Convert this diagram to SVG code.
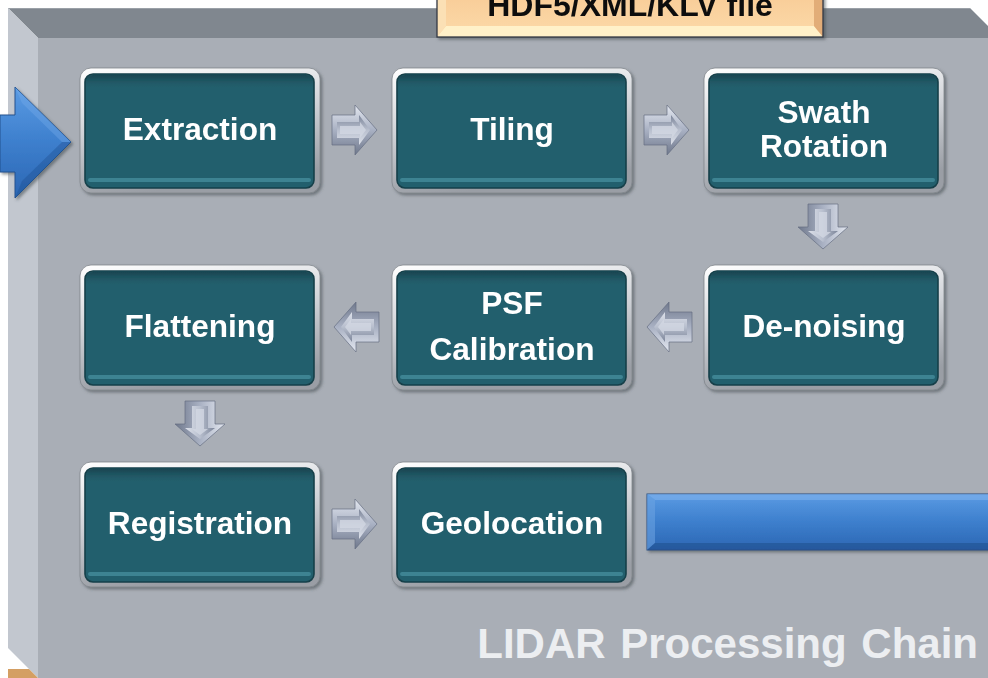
<svg xmlns="http://www.w3.org/2000/svg" xmlns:xlink="http://www.w3.org/1999/xlink" width="988" height="678" viewBox="0 0 988 678">
  <defs>
    <style>
      .lbl { font-family: "Liberation Sans", Arial, sans-serif; font-weight: bold; font-size: 31.6px; fill: #ffffff; text-anchor: middle; }
      .frame { fill: url(#frameGrad); stroke: #80858c; stroke-width: 0.8; }
      .face { fill: #245f6d; stroke: #163f49; stroke-width: 1.6; }
      .shine { fill: #3c8392; }
      .title { font-family: "Liberation Sans", Arial, sans-serif; font-weight: bold; font-size: 42px; word-spacing: 3px; fill: #eceef1; text-anchor: end; }
      .file { font-family: "Liberation Sans", Arial, sans-serif; font-weight: bold; font-size: 32px; fill: #111111; text-anchor: middle; }
    </style>
    <linearGradient id="frameGrad" x1="0" y1="0" x2="0.25" y2="1">
      <stop offset="0" stop-color="#ffffff"/>
      <stop offset="0.5" stop-color="#cfd2d7"/>
      <stop offset="1" stop-color="#9a9ea5"/>
    </linearGradient>
    <linearGradient id="faceShade" x1="0" y1="0" x2="0" y2="1">
      <stop offset="0" stop-color="#143a44" stop-opacity="0.7"/>
      <stop offset="0.12" stop-color="#1f5562" stop-opacity="0"/>
      <stop offset="1" stop-color="#1f5562" stop-opacity="0"/>
    </linearGradient>
    <linearGradient id="silver" x1="0" y1="0" x2="0" y2="1">
      <stop offset="0" stop-color="#e4e8f0"/>
      <stop offset="0.5" stop-color="#a9b1c3"/>
      <stop offset="1" stop-color="#6f788c"/>
    </linearGradient>
    <linearGradient id="silverIn" x1="0" y1="0" x2="0" y2="1">
      <stop offset="0" stop-color="#7c8599"/>
      <stop offset="0.5" stop-color="#b8bfce"/>
      <stop offset="1" stop-color="#dde1ea"/>
    </linearGradient>
    <linearGradient id="blueGrad" x1="0" y1="0" x2="0" y2="1">
      <stop offset="0" stop-color="#5b9be3"/>
      <stop offset="0.5" stop-color="#3d7fcd"/>
      <stop offset="1" stop-color="#2c66b3"/>
    </linearGradient>
    <linearGradient id="fileGrad" x1="0" y1="0" x2="0" y2="1">
      <stop offset="0" stop-color="#f8cb96"/>
      <stop offset="1" stop-color="#fcdaa9"/>
    </linearGradient>
    <filter id="shadow" x="-10%" y="-10%" width="125%" height="130%">
      <feDropShadow dx="2" dy="2" stdDeviation="1.5" flood-color="#40464e" flood-opacity="0.55"/>
    </filter>
    <!-- beveled silver arrow pointing right, origin at the tail centre -->
    <g id="arrowR">
      <polygon points="0,-15 23,-15 23,-25 45,0 23,25 23,15 0,15" fill="url(#silver)" stroke="#656e82" stroke-width="0.7"/>
      <polygon points="5,-8 27,-8 27,-15 38,0 27,15 27,8 5,8" fill="url(#silverIn)"/>
      <polygon points="8,-4 28,-4 28,-8 34,0 28,8 28,4 8,4" fill="#d2d7e2" opacity="0.8"/>
    </g>
  </defs>

  <!-- page background -->
  <rect x="0" y="0" width="988" height="678" fill="#ffffff"/>

  <!-- 3D panel: front face, top bevel, left bevel -->
  <rect x="38" y="38" width="960" height="650" fill="#a9aeb6"/>
  <polygon points="8,8 970,8 1000,38 38,38" fill="#80878f"/>
  <line x1="8" y1="8.5" x2="970" y2="8.5" stroke="#9aa0a7" stroke-width="1"/>
  <polygon points="8,8 38,38 38,678 8,648" fill="#c2c7cf"/>
  <polygon points="8,669 29,669 38,678 8,678" fill="#d49f63"/>

  <!-- file tag at the top -->
  <g id="file-tag" filter="url(#shadow)">
    <rect x="437" y="-10" width="386" height="47" fill="url(#fileGrad)"/>
    <polygon points="437,37 823,37 814,26 446,26" fill="#fff1c9"/>
    <polygon points="823,-10 823,37 814,26 814,-10" fill="#e2ad78"/>
    <polygon points="437,-10 446,-10 446,26 437,37" fill="#fbe0b5"/>
    <rect x="437" y="-10" width="386" height="47" fill="none" stroke="#333a44" stroke-width="1.3"/>
    <text class="file" x="630" y="16">HDF5/XML/KLV file</text>
  </g>

  <!-- input arrow entering from the left -->
  <g id="input-arrow" filter="url(#shadow)">
    <polygon points="0,115 15,115 15,87 71,142 15,198 15,172 0,172" fill="url(#blueGrad)" stroke="#23538f" stroke-width="1"/>
    <polygon points="15,87 71,142 62,142 22,103" fill="#7ab0ec" opacity="0.35"/>
    <polygon points="15,198 71,142 62,142 22,181" fill="#1f4f91" opacity="0.4"/>
  </g>

  <!-- output bar on the right -->
  <g id="output-bar" filter="url(#shadow)">
    <rect x="647" y="494" width="345" height="56" fill="url(#blueGrad)" stroke="#2a4f82" stroke-width="1"/>
    <polygon points="647,494 992,494 992,500 655,500" fill="#7fb3ec" opacity="0.6"/>
    <polygon points="647,494 655,500 655,543 647,550" fill="#6ea4e2" opacity="0.55"/>
    <polygon points="647,550 655,543 992,543 992,550" fill="#234f8c" opacity="0.55"/>
  </g>

  <!-- connectors -->
  <g id="connectors">
    <use xlink:href="#arrowR" transform="translate(332,130)"/>
    <use xlink:href="#arrowR" transform="translate(644,130)"/>
    <use xlink:href="#arrowR" transform="translate(823,204) rotate(90)"/>
    <use xlink:href="#arrowR" transform="translate(692,327) rotate(180)"/>
    <use xlink:href="#arrowR" transform="translate(379,327) rotate(180)"/>
    <use xlink:href="#arrowR" transform="translate(200,401) rotate(90)"/>
    <use xlink:href="#arrowR" transform="translate(332,524)"/>
  </g>

  <!-- processing steps -->
  <g id="extraction" filter="url(#shadow)">
    <rect class="frame" x="80" y="68" width="240" height="125" rx="11"/>
    <rect class="face" x="85" y="74" width="229" height="114" rx="8"/>
    <rect x="86" y="75" width="227" height="112" rx="7" fill="url(#faceShade)"/>
    <rect class="shine" x="88" y="178" width="223" height="4" rx="2"/>
    <text class="lbl" x="200" y="140">Extraction</text>
  </g>
  <g id="tiling" filter="url(#shadow)">
    <rect class="frame" x="392" y="68" width="240" height="125" rx="11"/>
    <rect class="face" x="397" y="74" width="229" height="114" rx="8"/>
    <rect x="398" y="75" width="227" height="112" rx="7" fill="url(#faceShade)"/>
    <rect class="shine" x="400" y="178" width="223" height="4" rx="2"/>
    <text class="lbl" x="512" y="140">Tiling</text>
  </g>
  <g id="swath-rotation" filter="url(#shadow)">
    <rect class="frame" x="704" y="68" width="240" height="125" rx="11"/>
    <rect class="face" x="709" y="74" width="229" height="114" rx="8"/>
    <rect x="710" y="75" width="227" height="112" rx="7" fill="url(#faceShade)"/>
    <rect class="shine" x="712" y="178" width="223" height="4" rx="2"/>
    <text class="lbl" x="824" y="123">Swath</text>
    <text class="lbl" x="824" y="157">Rotation</text>
  </g>
  <g id="flattening" filter="url(#shadow)">
    <rect class="frame" x="80" y="265" width="240" height="125" rx="11"/>
    <rect class="face" x="85" y="271" width="229" height="114" rx="8"/>
    <rect x="86" y="272" width="227" height="112" rx="7" fill="url(#faceShade)"/>
    <rect class="shine" x="88" y="375" width="223" height="4" rx="2"/>
    <text class="lbl" x="200" y="337">Flattening</text>
  </g>
  <g id="psf-calibration" filter="url(#shadow)">
    <rect class="frame" x="392" y="265" width="240" height="125" rx="11"/>
    <rect class="face" x="397" y="271" width="229" height="114" rx="8"/>
    <rect x="398" y="272" width="227" height="112" rx="7" fill="url(#faceShade)"/>
    <rect class="shine" x="400" y="375" width="223" height="4" rx="2"/>
    <text class="lbl" x="512" y="314">PSF</text>
    <text class="lbl" x="512" y="360">Calibration</text>
  </g>
  <g id="de-noising" filter="url(#shadow)">
    <rect class="frame" x="704" y="265" width="240" height="125" rx="11"/>
    <rect class="face" x="709" y="271" width="229" height="114" rx="8"/>
    <rect x="710" y="272" width="227" height="112" rx="7" fill="url(#faceShade)"/>
    <rect class="shine" x="712" y="375" width="223" height="4" rx="2"/>
    <text class="lbl" x="824" y="337">De-noising</text>
  </g>
  <g id="registration" filter="url(#shadow)">
    <rect class="frame" x="80" y="462" width="240" height="125" rx="11"/>
    <rect class="face" x="85" y="468" width="229" height="114" rx="8"/>
    <rect x="86" y="469" width="227" height="112" rx="7" fill="url(#faceShade)"/>
    <rect class="shine" x="88" y="572" width="223" height="4" rx="2"/>
    <text class="lbl" x="200" y="534">Registration</text>
  </g>
  <g id="geolocation" filter="url(#shadow)">
    <rect class="frame" x="392" y="462" width="240" height="125" rx="11"/>
    <rect class="face" x="397" y="468" width="229" height="114" rx="8"/>
    <rect x="398" y="469" width="227" height="112" rx="7" fill="url(#faceShade)"/>
    <rect class="shine" x="400" y="572" width="223" height="4" rx="2"/>
    <text class="lbl" x="512" y="534">Geolocation</text>
  </g>

  <!-- panel caption -->
  <text class="title" x="978" y="658">LIDAR Processing Chain</text>
</svg>
